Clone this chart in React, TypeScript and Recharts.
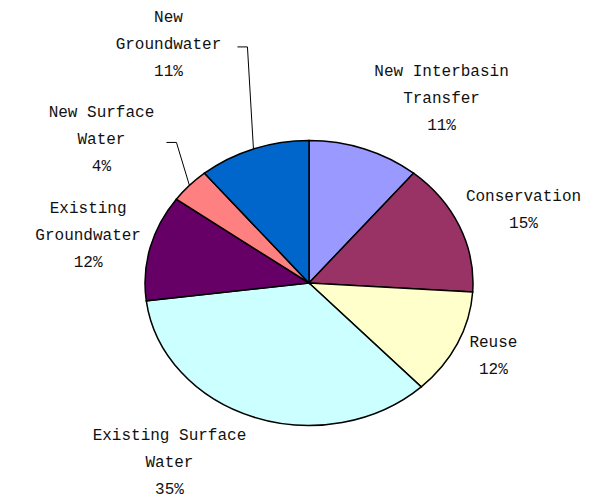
import React from "react";
import { PieChart, Pie, Cell } from "recharts";

const names = [
  "New Interbasin Transfer",
  "Conservation",
  "Reuse",
  "Existing Surface Water",
  "Existing Groundwater",
  "New Surface Water",
  "New Groundwater",
];
const shares = [11, 15, 12, 35, 12, 4, 11];
const nameLines = [
  ["New Interbasin", "Transfer"],
  ["Conservation"],
  ["Reuse"],
  ["Existing Surface", "Water"],
  ["Existing", "Groundwater"],
  ["New Surface", "Water"],
  ["New", "Groundwater"],
];

const colors = ["#9999FF", "#993366", "#FFFFCC", "#CCFFFF", "#660066", "#FF8080", "#0066CC"];

// label block placement relative to the slice's outer edge midpoint
const labelLayout = [
  { dx: 77, dy: -50, leader: null },
  { dx: 64, dy: -16, leader: null },
  { dx: 36, dy: 13, leader: null },
  { dx: -84, dy: 46, leader: null },
  { dx: -62, dy: -12, leader: null },
  { dx: -88, dy: -45, leader: { elbowDx: -13, len: 10 } },
  { dx: -85, dy: -104, leader: { elbowDx: -6, len: 10 } },
];

const data = names.map((n, i) => ({ name: n, value: shares[i] }));

const CX = 309;
const CY = 283;
const R = 164;
const Y_RATIO = 0.869;
const LINE_H = 27;

const renderLabel = (props: any) => {
  const { cx, cy, midAngle, outerRadius, index } = props;
  const a = (midAngle * Math.PI) / 180;
  const ex = cx + outerRadius * Math.cos(a);
  const ey = cy - outerRadius * Y_RATIO * Math.sin(a);
  const lay = labelLayout[index];
  const bx = ex + lay.dx;
  const by = ey + lay.dy;
  const lines = [...nameLines[index], `${shares[index]}%`];
  const n = lines.length;
  const y0 = by - ((n - 1) / 2) * LINE_H;
  let leader = null;
  if (lay.leader) {
    const midY = y0 + LINE_H + 2;
    const elbowX = ex + lay.leader.elbowDx;
    leader = (
      <polyline
        points={`${ex},${ey} ${elbowX},${midY} ${elbowX - lay.leader.len},${midY}`}
        fill="none"
        stroke="#000"
        strokeWidth={1}
      />
    );
  }
  return (
    <g key={`lbl-${index}`}>
      {leader}
      {lines.map((t, i) => (
        <text
          key={i}
          x={bx}
          y={y0 + i * LINE_H}
          textAnchor="middle"
          dominantBaseline="central"
          fontFamily="Liberation Mono, monospace"
          fontSize={16}
          fill="#111"
        >
          {t}
        </text>
      ))}
    </g>
  );
};

export default function App() {
  return (
    <div style={{ position: "absolute", left: 0, top: 0, width: 599, height: 501, background: "#fff" }}>
      <style>{`
        path.recharts-sector {
          transform: scaleY(${Y_RATIO});
          transform-origin: ${CX}px ${CY}px;
          vector-effect: non-scaling-stroke;
        }
      `}</style>
      <PieChart width={599} height={501} margin={{ top: 0, right: 0, bottom: 0, left: 0 }}>
        <Pie
          data={data}
          dataKey="value"
          nameKey="name"
          cx={CX}
          cy={CY}
          outerRadius={R}
          startAngle={90}
          endAngle={-270}
          stroke="#000"
          strokeWidth={1.5}
          label={renderLabel}
          labelLine={false}
          isAnimationActive={false}
        >
          {data.map((d, i) => (
            <Cell key={d.name} fill={colors[i]} />
          ))}
        </Pie>
      </PieChart>
    </div>
  );
}
